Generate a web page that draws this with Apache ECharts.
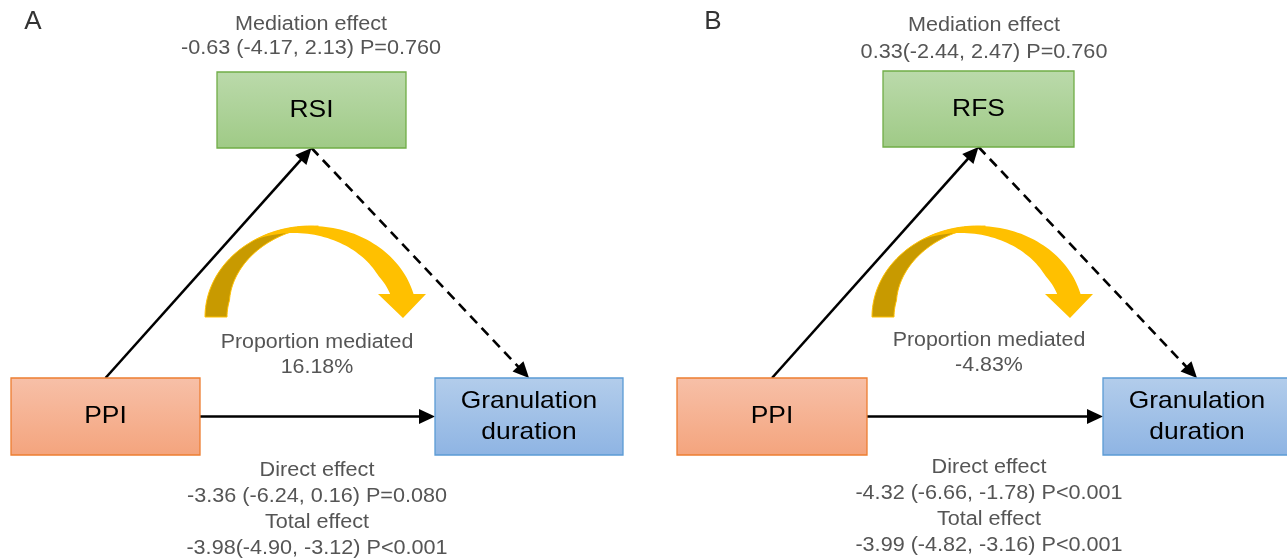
<!DOCTYPE html>
<html><head><meta charset="utf-8">
<script src="https://cdn.jsdelivr.net/npm/echarts@6/dist/echarts.min.js"></script>
<style>html,body{margin:0;padding:0;background:#fff}#c{width:1287px;height:558px}</style>
</head><body><div id="c"></div>
<script>
// ---------- content (data) ----------
const panelLabels = ['A', 'B'];
const exposures = ['PPI', 'PPI'];
const mediators = ['RSI', 'RFS'];
const outcomes = [['Granulation', 'duration'], ['Granulation', 'duration']];
const mediationEffects = ['-0.63 (-4.17, 2.13) P=0.760', '0.33(-2.44, 2.47) P=0.760'];
const proportionsMediated = ['16.18%', '-4.83%'];
const directEffects = ['-3.36 (-6.24, 0.16) P=0.080', '-4.32 (-6.66, -1.78) P<0.001'];
const totalEffects = ['-3.98(-4.90, -3.12) P<0.001', '-3.99 (-4.82, -3.16) P<0.001'];
const mediatorPathDashed = [true, true];

// ---------- layout (positions, in axis units = pixels) ----------
const layout = [
  { ppi: [11, 378, 200, 455], med: [217, 72, 406, 148], out: [435, 378, 623, 455],
    medText: { x: 311, y: [24, 48.5] }, propText: { x: 317, y: [342.5, 367.5] },
    effText: { x: 317, y: [470, 496, 522, 548] }, label: { x: 33, y: 22 }, arc: { cx: 311, cy: 317 } },
  { ppi: [677, 378, 867, 455], med: [883, 71, 1074, 147], out: [1103, 378, 1291, 455],
    medText: { x: 984, y: [25.5, 52] }, propText: { x: 989, y: [340.5, 365.5] },
    effText: { x: 989, y: [467, 493, 519, 545] }, label: { x: 713, y: 22 }, arc: { cx: 978, cy: 317 } }
];

const FONT = '"Liberation Sans", Arial, Helvetica, sans-serif';
const GRAY = '#555555';

function renderPanel(params, api) {
  const i = api.value(0);
  const L = layout[i];
  const P = p => api.coord(p);
  const kids = [];

  // ---- curved yellow arrow ----
  const cx = L.arc.cx, cy = L.arc.cy, RX = 106, RY = 91, T = 22;
  const ep = (rx, ry, deg) => { const r = deg * Math.PI / 180; return [cx + rx * Math.cos(r), cy - ry * Math.sin(r)]; };
  const dark = [];
  for (let a = 180; a >= 86; a -= 2) dark.push(P(ep(RX, RY, a)));
  for (let a = 86; a <= 180; a += 2) { const t = T * Math.min(1, (a - 86) / 80); dark.push(P(ep(RX - t, RY - t, a))); }
  kids.push({ type: 'polygon', shape: { points: dark }, style: { fill: '#C89A00', stroke: '#FFC000', lineWidth: 1 } });
  const baseY = cy - 23;
  const aOut = Math.asin(23 / RY) * 180 / Math.PI;
  const aIn = Math.asin(23 / (RY - T)) * 180 / Math.PI;
  const bright = [];
  for (let a = 122; a > aOut; a -= 2) bright.push(P(ep(RX, RY, a)));
  bright.push(P(ep(RX, RY, aOut)));
  bright.push(P([cx + 115, baseY]));
  bright.push(P([cx + 92, cy + 1]));
  bright.push(P([cx + 67, baseY]));
  bright.push(P(ep(RX - T, RY - T, aIn)));
  for (let a = Math.ceil(aIn); a <= 122; a += 2) {
    const t = T * Math.max(0, Math.min(1, (122 - a) / 85));
    bright.push(P(ep(RX - t, RY - t, a)));
  }
  kids.push({ type: 'polygon', shape: { points: bright }, style: { fill: '#FFC000' } });

  // ---- straight arrows ----
  function arrow(a, b, dashed) {
    const pa = P(a), pb = P(b);
    const dx = pb[0] - pa[0], dy = pb[1] - pa[1], len = Math.hypot(dx, dy);
    const ux = dx / len, uy = dy / len, hl = 16, hw = 7.5;
    const bx = pb[0] - ux * hl, by = pb[1] - uy * hl;
    kids.push({ type: 'line', shape: { x1: pa[0], y1: pa[1], x2: bx + ux * 2, y2: by + uy * 2 },
      style: { stroke: '#000', lineWidth: 2.6, lineDash: dashed ? [10, 6.5] : null } });
    kids.push({ type: 'polygon', shape: { points: [pb, [bx - uy * hw, by + ux * hw], [bx + uy * hw, by - ux * hw]] },
      style: { fill: '#000' } });
  }
  const topC = r => [(r[0] + r[2]) / 2, r[1]];
  const botC = r => [(r[0] + r[2]) / 2, r[3]];
  const midY = r => (r[1] + r[3]) / 2;
  arrow(topC(L.ppi), botC(L.med), false);
  arrow(botC(L.med), topC(L.out), mediatorPathDashed[i]);
  arrow([L.ppi[2], midY(L.ppi)], [L.out[0], midY(L.ppi)], false);

  // ---- boxes ----
  function box(r, c1, c2, stroke) {
    const p0 = P([r[0], r[1]]), p1 = P([r[2], r[3]]);
    kids.push({ type: 'rect',
      shape: { x: Math.min(p0[0], p1[0]), y: Math.min(p0[1], p1[1]), width: Math.abs(p1[0] - p0[0]), height: Math.abs(p1[1] - p0[1]) },
      style: { fill: new echarts.graphic.LinearGradient(0, 0, 0, 1, [{ offset: 0, color: c1 }, { offset: 1, color: c2 }]),
        stroke: stroke, lineWidth: 1.3 } });
  }
  box(L.ppi, '#F7C0A8', '#F4A47D', '#ED7D31');
  box(L.med, '#BBDAAB', '#9FCA86', '#70AD47');
  box(L.out, '#B3CDEB', '#8EB4E3', '#5B9BD5');

  // ---- texts ----
  function text(str, x, y, size, color, sx) {
    const p = P([x, y]);
    kids.push({ type: 'text', x: p[0], y: p[1], scaleX: sx, scaleY: 1,
      style: { text: str, x: 0, y: 0, fill: color, fontSize: size, fontFamily: FONT, align: 'center', verticalAlign: 'middle' } });
  }
  const bc = r => [(r[0] + r[2]) / 2, (r[1] + r[3]) / 2];
  const c1 = bc(L.ppi), c2 = bc(L.med), c3 = bc(L.out);
  text(exposures[i], c1[0], c1[1], 24, '#000', 1.1);
  text(mediators[i], c2[0], c2[1], 24, '#000', 1.1);
  text(outcomes[i][0], c3[0], c3[1] - 15.5, 24, '#000', 1.1);
  text(outcomes[i][1], c3[0], c3[1] + 15.5, 24, '#000', 1.1);

  text(panelLabels[i], L.label.x, L.label.y, 26, '#333', 1);
  text('Mediation effect', L.medText.x, L.medText.y[0], 20, GRAY, 1.08);
  text(mediationEffects[i], L.medText.x, L.medText.y[1], 20, GRAY, 1.08);
  text('Proportion mediated', L.propText.x, L.propText.y[0], 20, GRAY, 1.07);
  text(proportionsMediated[i], L.propText.x, L.propText.y[1], 20, GRAY, 1.07);
  text('Direct effect', L.effText.x, L.effText.y[0], 20, GRAY, 1.08);
  text(directEffects[i], L.effText.x, L.effText.y[1], 20, GRAY, 1.08);
  text('Total effect', L.effText.x, L.effText.y[2], 20, GRAY, 1.08);
  text(totalEffects[i], L.effText.x, L.effText.y[3], 20, GRAY, 1.08);

  return { type: 'group', children: kids };
}

const chart = echarts.init(document.getElementById('c'), null, { renderer: 'canvas' });
chart.setOption({
  animation: false,
  backgroundColor: '#fff',
  grid: { left: 0, right: 0, top: 0, bottom: 0 },
  xAxis: { type: 'value', min: 0, max: 1287, show: false },
  yAxis: { type: 'value', min: 0, max: 558, inverse: true, show: false },
  series: [{
    type: 'custom',
    coordinateSystem: 'cartesian2d',
    clip: false,
    silent: true,
    encode: { x: 0, y: 1 },
    data: panelLabels.map((p, i) => [i, i]),
    renderItem: renderPanel
  }]
});
</script></body></html>
